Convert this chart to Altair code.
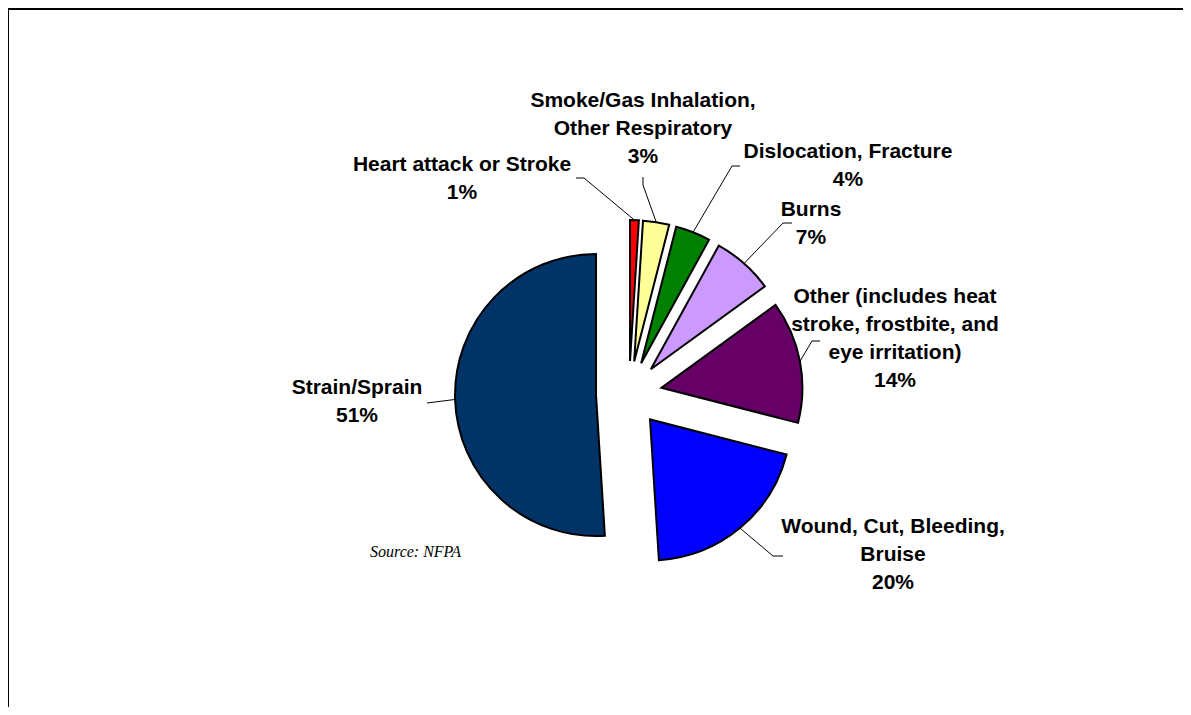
import altair as alt
import pandas as pd

# ---------------- data ----------------
categories = [
    "Heart attack or Stroke",
    "Smoke/Gas Inhalation, Other Respiratory",
    "Dislocation, Fracture",
    "Burns",
    "Other (includes heat stroke, frostbite, and eye irritation)",
    "Wound, Cut, Bleeding, Bruise",
    "Strain/Sprain",
]
values = [1, 3, 4, 7, 14, 20, 51]
label_lines = [
    "Heart attack or Stroke",
    "Smoke/Gas Inhalation,\nOther Respiratory",
    "Dislocation, Fracture",
    "Burns",
    "Other (includes heat\nstroke, frostbite, and\neye irritation)",
    "Wound, Cut, Bleeding,\nBruise",
    "Strain/Sprain",
]
colors = ["#FF0000", "#FFFF99", "#008000", "#CC99FF", "#660066", "#0000FF", "#003366"]
source_text = "Source: NFPA"

# ---------------- layout (pixels, chart coordinates) ----------------
W, H = 1175, 699
CX, CY = 621, 386        # pie centre
R = 141                  # pie radius
EXPLODE = 33             # explosion distance
OFF = 8                  # page margin
LINE_H = 28
label_pos = [(462, 179), (643, 129), (848, 166), (811, 224), (895, 339), (893, 555), (357, 402)]
stub_from = [(576, 178), (643, 177), (740, 166), (792, 223), (820, 341), (783, 556), (427, 403)]
stub_to = [(584, 178), (643, 185), (732, 166), (783, 223), (812, 341), (773, 556), (427, 403)]

rows = []
for i, c in enumerate(categories):
    rows.append({
        "order": i,
        "cat": c,
        "value": values[i],
        "label": label_lines[i],
        "lx": label_pos[i][0] - OFF, "ly": label_pos[i][1] - OFF,
        "sx1": stub_from[i][0] - OFF, "sy1": stub_from[i][1] - OFF,
        "sx2": stub_to[i][0] - OFF, "sy2": stub_to[i][1] - OFF,
    })
df = pd.DataFrame(rows)

base = alt.Chart(df).transform_window(
    cum="sum(value)", sort=[alt.SortField("order")]
).transform_joinaggregate(
    total="sum(value)"
).transform_calculate(
    t0="2*PI*(datum.cum - datum.value)/datum.total",
    t1="2*PI*datum.cum/datum.total",
).transform_calculate(
    mid="(datum.t0 + datum.t1)/2",
).transform_calculate(
    px=f"{CX} + {EXPLODE}*sin(datum.mid)",
    py=f"{CY} - {EXPLODE}*cos(datum.mid)",
    ex=f"{CX} + {EXPLODE + R}*sin(datum.mid)",
    ey=f"{CY} - {EXPLODE + R}*cos(datum.mid)",
    txt="datum.label + '\\n' + datum.value + '%'",
).transform_calculate(
    ty=f"datum.ly - (split(datum.txt, '\\n').length - 1) * {LINE_H / 2}",
)

color = alt.Color("cat:N", scale=alt.Scale(domain=categories, range=colors), legend=None)

arcs = base.mark_arc(radius=R, stroke="black", strokeWidth=2, strokeJoin="miter").encode(
    x=alt.X("px:Q", scale=None),
    y=alt.Y("py:Q", scale=None),
    theta=alt.Theta("t0:Q", scale=None),
    theta2=alt.Theta2("t1:Q"),
    color=color,
    order=alt.Order("order:Q"),
)

stubs = base.mark_rule(color="black", strokeWidth=1).encode(
    x=alt.X("sx1:Q", scale=None),
    y=alt.Y("sy1:Q", scale=None),
    x2="sx2:Q",
    y2="sy2:Q",
)

leaders = base.mark_rule(color="black", strokeWidth=1).encode(
    x=alt.X("sx2:Q", scale=None),
    y=alt.Y("sy2:Q", scale=None),
    x2="ex:Q",
    y2="ey:Q",
)

labels = base.mark_text(
    font="Arial, Liberation Sans, sans-serif",
    fontSize=21,
    fontWeight="bold",
    lineBreak="\n",
    lineHeight=LINE_H,
    align="center",
    baseline="middle",
    color="black",
).encode(
    x=alt.X("lx:Q", scale=None),
    y=alt.Y("ty:Q", scale=None),
    text="txt:N",
)

src_df = pd.DataFrame({"t": [source_text], "x": [370 - OFF], "y": [552 - OFF]})
source = alt.Chart(src_df).mark_text(
    font="Times New Roman, Liberation Serif, serif",
    fontSize=16,
    fontStyle="italic",
    align="left",
    baseline="middle",
    color="black",
).encode(
    x=alt.X("x:Q", scale=None),
    y=alt.Y("y:Q", scale=None),
    text="t:N",
)

border_top = alt.Chart(src_df).mark_rule(color="black", strokeWidth=2).encode(
    x=alt.value(0), x2=alt.value(W), y=alt.value(1)
)
border_left = alt.Chart(src_df).mark_rule(color="black", strokeWidth=1).encode(
    x=alt.value(0.5), y=alt.value(0), y2=alt.value(H)
)

chart = alt.layer(
    border_top, border_left, stubs, leaders, arcs, labels, source
).properties(
    width=W, height=H, autosize="none", padding=0
).configure_view(stroke=None)

chart.save("out.html", embed_options={"renderer": "svg", "actions": False})
